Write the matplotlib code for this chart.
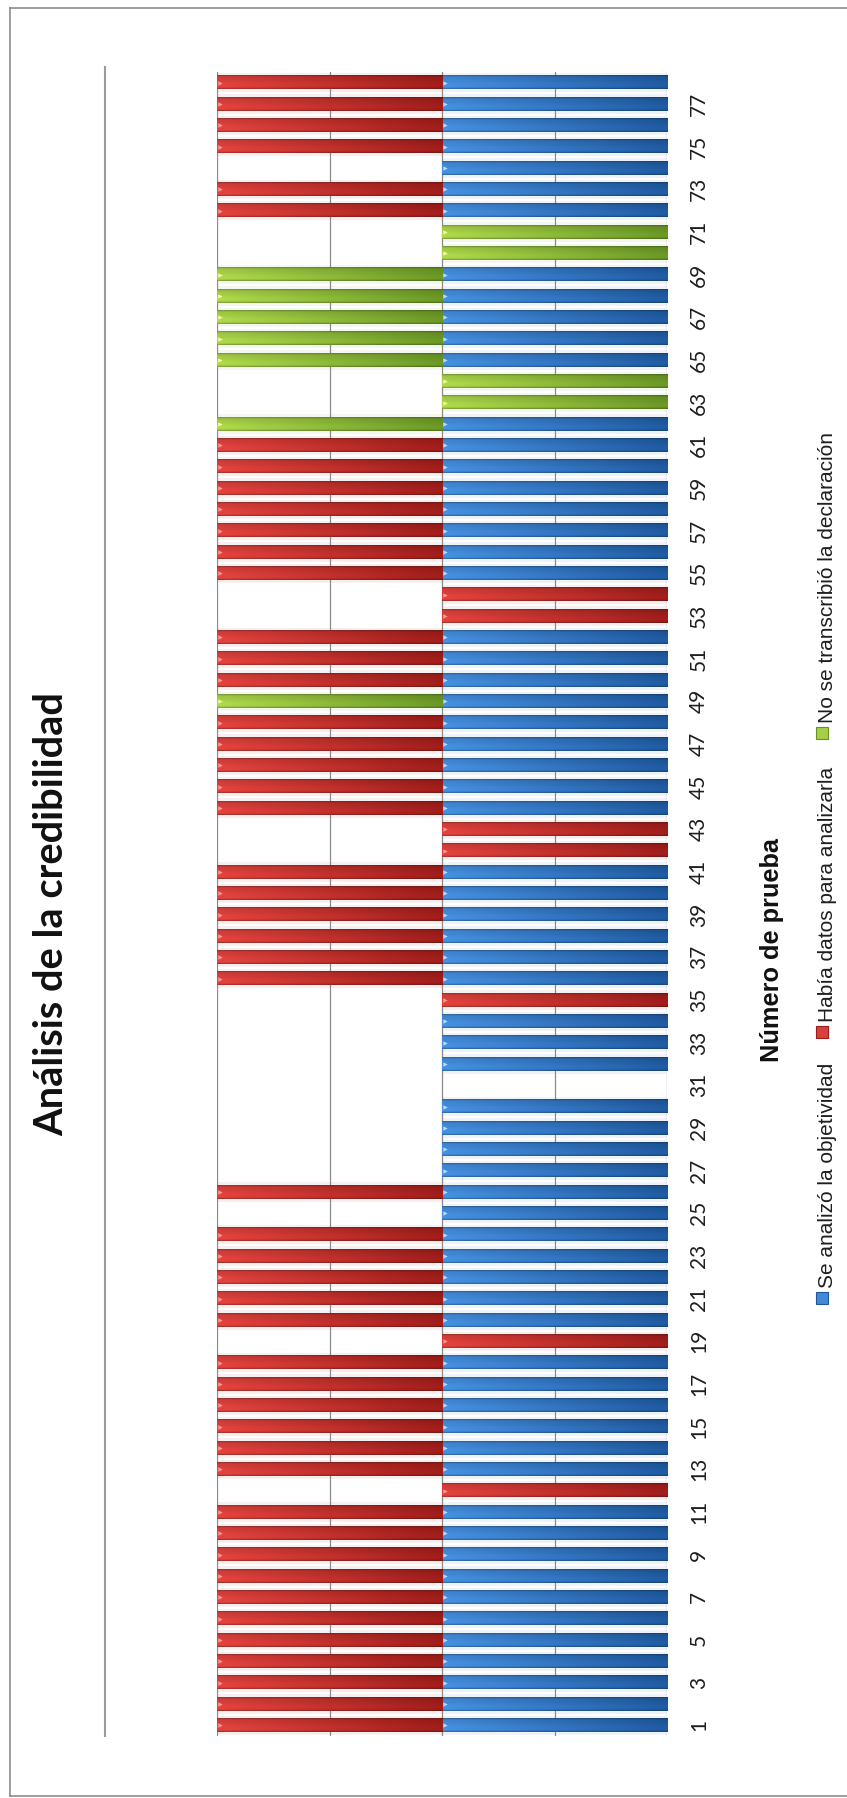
import numpy as np
import matplotlib
matplotlib.use("Agg")
import matplotlib.pyplot as plt
from matplotlib.patches import Rectangle
from matplotlib.lines import Line2D

# ---- data -------------------------------------------------------------
pruebas = list(range(1, 79))

# Se analizó la objetividad (1 = segment present)
objetividad = [
    1, 1, 1, 1, 1, 1, 1, 1, 1, 1,
    1, 0, 1, 1, 1, 1, 1, 1, 0, 1,
    1, 1, 1, 1, 1, 1, 1, 1, 1, 1,
    0, 1, 1, 1, 0, 1, 1, 1, 1, 1,
    1, 0, 0, 1, 1, 1, 1, 1, 1, 1,
    1, 1, 0, 0, 1, 1, 1, 1, 1, 1,
    1, 1, 0, 0, 1, 1, 1, 1, 1, 0,
    0, 1, 1, 1, 1, 1, 1, 1,
]

# Había datos para analizarla
datos = [
    1, 1, 1, 1, 1, 1, 1, 1, 1, 1,
    1, 1, 1, 1, 1, 1, 1, 1, 1, 1,
    1, 1, 1, 1, 0, 1, 0, 0, 0, 0,
    0, 0, 0, 0, 1, 1, 1, 1, 1, 1,
    1, 1, 1, 1, 1, 1, 1, 1, 0, 1,
    1, 1, 1, 1, 1, 1, 1, 1, 1, 1,
    1, 0, 0, 0, 0, 0, 0, 0, 0, 0,
    0, 1, 1, 0, 1, 1, 1, 1,
]

# No se transcribió la declaración
no_transcrita = [
    0, 0, 0, 0, 0, 0, 0, 0, 0, 0,
    0, 0, 0, 0, 0, 0, 0, 0, 0, 0,
    0, 0, 0, 0, 0, 0, 0, 0, 0, 0,
    0, 0, 0, 0, 0, 0, 0, 0, 0, 0,
    0, 0, 0, 0, 0, 0, 0, 0, 1, 0,
    0, 0, 0, 0, 0, 0, 0, 0, 0, 0,
    0, 1, 1, 1, 1, 1, 1, 1, 1, 1,
    1, 0, 0, 0, 0, 0, 0, 0,
]

series_names = ["Se analizó la objetividad",
                "Había datos para analizarla",
                "No se transcribió la declaración"]
titulo = "Análisis de la credibilidad"
eje_titulo = "Número de prueba"

# ---- styling ----------------------------------------------------------
W, H = 847, 1798
fig = plt.figure(figsize=(W / 100, H / 100), dpi=100)
fig.patch.set_facecolor("white")


def fx(px):
    return px / W


def fy(py):
    return 1 - py / H


styles = [
    # light end, dark end, highlight
    ((0.26, 0.54, 0.84), (0.12, 0.34, 0.61), (0.72, 0.86, 1.00)),
    ((0.85, 0.25, 0.23), (0.60, 0.11, 0.10), (1.00, 0.62, 0.56)),
    ((0.65, 0.81, 0.28), (0.40, 0.57, 0.14), (0.95, 1.00, 0.62)),
]

ax = fig.add_axes([fx(217), fy(1736), fx(667) - fx(217), fy(72) - fy(1736)])
ax.set_facecolor("white")

bar_h = 0.62
nx, ny = 64, 18
along = np.linspace(0, 1, nx)
# shading across the bar thickness (bottom -> top)
prof_pos = [0.0, 0.12, 0.35, 0.6, 0.88, 1.0]
prof_val = [0.78, 1.05, 1.06, 1.0, 0.96, 0.74]
across = np.interp(np.linspace(0, 1, ny), prof_pos, prof_val)


def gradient(light, dark):
    light = np.array(light)
    dark = np.array(dark)
    base = dark[None, :] + (light - dark)[None, :] * along[:, None]
    img = base[None, :, :] * across[:, None, None]
    return np.clip(img, 0, 1)


y = np.array(pruebas, dtype=float)
left = np.zeros(len(y))
all_series = [np.array(objetividad, float), np.array(datos, float),
              np.array(no_transcrita, float)]

for vals, (light, dark, hi), name in zip(all_series, styles, series_names):
    # soft halo around each segment
    ax.barh(y, vals, left=left, height=0.92, color=dark, alpha=0.07,
            linewidth=0, zorder=1)
    bars = ax.barh(y, vals, left=left, height=bar_h, color=dark,
                   linewidth=0, zorder=2, label=name)
    img = gradient(light, dark)
    hx, hy = [], []
    for rect, v in zip(bars, vals):
        if v <= 0:
            continue
        x0 = rect.get_x()
        x1 = x0 + rect.get_width()
        y0 = rect.get_y()
        y1 = y0 + rect.get_height()
        ax.imshow(img, extent=(x0, x1, y0, y1), origin="lower",
                  aspect="auto", interpolation="bilinear", zorder=2.5)
        hx.append(x1 - 0.014)
        hy.append((y0 + y1) / 2)
    ax.scatter(hx, hy, marker=">", s=10, color=hi, linewidths=0, zorder=3)
    left = left + vals

for v in [0, 0.5, 1, 1.5, 2]:
    ax.axvline(v, color="#8a8a8a", lw=0.9, zorder=1.5)

ax.set_xlim(2, 0)
ax.set_ylim(0.5, 78.5)
for s in ax.spines.values():
    s.set_visible(False)
ax.set_xticks([])
ax.yaxis.tick_right()
ax.set_yticks(pruebas[::2])
ax.set_yticklabels([str(p) for p in pruebas[::2]])
ax.tick_params(axis="y", length=0, pad=16, labelsize=15,
               labelcolor="#1e1e1e", labelrotation=90)
for lab in ax.get_yticklabels():
    lab.set_verticalalignment("center")
    lab.set_family(["Lato", "DejaVu Sans"])

# ---- frame lines ------------------------------------------------------
frame_c = "#8c8c8c"
fig.add_artist(Line2D([fx(10), fx(10)], [fy(8), fy(1796)], color=frame_c, lw=1.2))
fig.add_artist(Line2D([fx(10), 1.0], [fy(8), fy(8)], color=frame_c, lw=1.2))
fig.add_artist(Line2D([fx(10), 1.0], [fy(1796), fy(1796)], color=frame_c, lw=1.2))
fig.add_artist(Line2D([fx(105), fx(105)], [fy(67), fy(1736)], color="#9c9c9c", lw=1.5))

# ---- texts ------------------------------------------------------------
renderer = fig.canvas.get_renderer()


def fit_length(t, target):
    cur = t.get_window_extent(renderer).height
    t.set_fontsize(t.get_fontsize() * target / cur)


t_title = fig.text(fx(52), fy(914), titulo, rotation=90, ha="center", va="center",
                   fontsize=22, fontweight="bold", family=["Lato", "DejaVu Sans"],
                   color="#111111")
fit_length(t_title, 445)

t_axis = fig.text(fx(772), fy(950), eje_titulo, rotation=90, ha="center", va="center",
                  fontsize=18, fontweight="bold",
                  family=["Liberation Sans", "DejaVu Sans"], color="#111111")
fit_length(t_axis, 225)

# legend entries: marker square followed by its text, reading upward
marker_y = [1298, 1032, 733]
msize = 12
for name, (light, dark, hi), my in zip(series_names, styles, marker_y):
    fig.add_artist(Rectangle((fx(822 - msize / 2), fy(my + msize / 2)),
                             msize / W, msize / H, facecolor=light,
                             edgecolor=dark, lw=0.8))
    fig.text(fx(827), fy(my - msize / 2 - 4), name, rotation=90, ha="center",
             va="bottom", fontsize=15, family=["Liberation Sans", "DejaVu Sans"],
             color="#1e1e1e")

fig.savefig("out.png", dpi=100)
